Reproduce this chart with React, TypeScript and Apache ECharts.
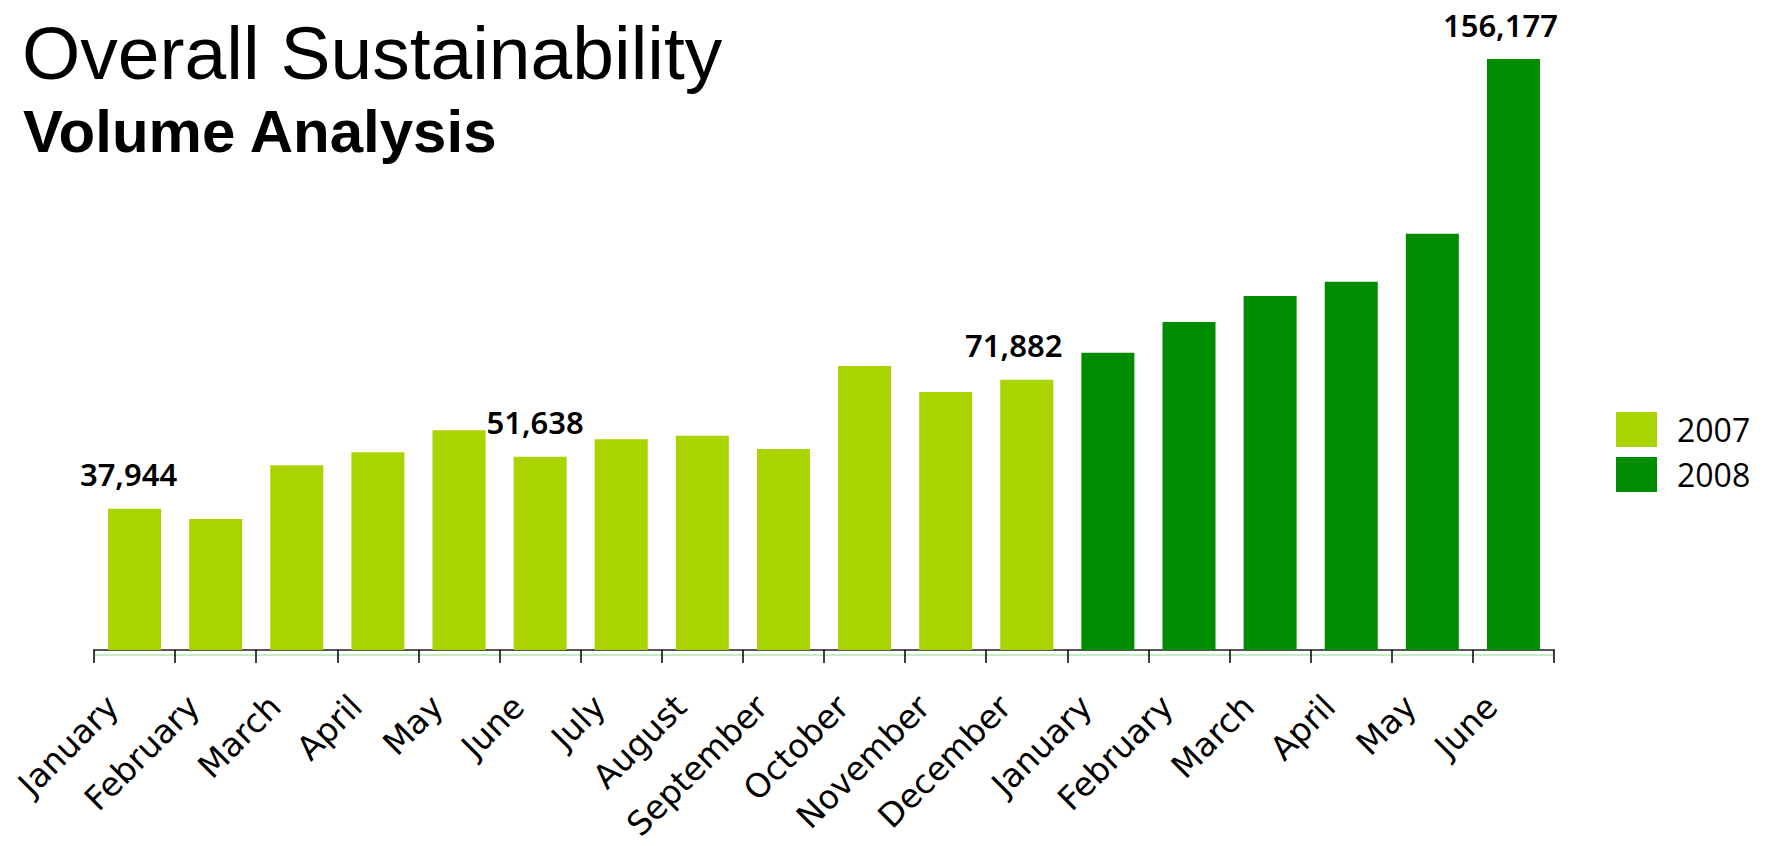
import React, { useEffect, useRef } from "react";
import * as echarts from "echarts";

const categories = [
  "January", "February", "March", "April", "May", "June",
  "July", "August", "September", "October", "November", "December",
  "January", "February", "March", "April", "May", "June",
];
const seriesNames = ["2007", "2008"];
const values2007 = [37944, 35240, 49360, 52780, 58560, 51638, 56190, 57140, 53640, 75460, 68630, 71882];
const values2008 = [78960, 87030, 93870, 97630, 110240, 156177];
const labelledIndexes = [0, 5, 11, 17];
const labelShifts = [-6, -5, -13, -13];
const colors = ["#aad400", "#008c00"];

export default function App() {
  const ref = useRef<HTMLDivElement>(null);
  useEffect(() => {
    if (!ref.current) return;
    const chart = echarts.init(ref.current, undefined, { renderer: "svg" });
    const n07 = values2007.length;
    const labelCfg = (k: number) => ({
      show: true,
      position: "top",
      distance: 19,
      offset: [labelShifts[k], 0],
      color: "#000",
      fontFamily: "Noto Sans",
      fontWeight: 600,
      fontSize: 31,
      formatter: (p: any) => Number(p.value).toLocaleString("en-US"),
    });
    const mk = (vals: number[], start: number) =>
      categories.map((_, i) => {
        const j = i - start;
        if (j < 0 || j >= vals.length) return "-";
        const v = vals[j];
        const k = labelledIndexes.indexOf(i);
        return k >= 0 ? { value: v, label: labelCfg(k) } : v;
      });
    chart.setOption({
      animation: false,
      title: [
        {
          text: "Overall Sustainability",
          left: 22,
          top: 15,
          padding: 0,
          textStyle: { fontFamily: "Liberation Sans", fontSize: 75, fontWeight: "normal", color: "#000" },
        },
        {
          text: "Volume Analysis",
          left: 23,
          top: 101,
          padding: 0,
          textStyle: { fontFamily: "Liberation Sans", fontSize: 60, fontWeight: "bold", color: "#000" },
        },
      ],
      legend: {
        orient: "vertical",
        left: 1616,
        top: 412,
        padding: 0,
        itemWidth: 41,
        itemHeight: 35,
        itemGap: 10,
        icon: "rect",
        textStyle: { fontFamily: "Open Sans", fontSize: 32, color: "#000", padding: [8, 0, 0, 15] },
        data: seriesNames,
      },
      grid: { left: 94, right: 213, top: 59, bottom: 196, containLabel: false },
      xAxis: [
        {
          type: "category",
          data: categories,
          boundaryGap: true,
          axisLine: { lineStyle: { color: "#555", width: 2 } },
          axisTick: { show: true, length: 13, lineStyle: { color: "#000", width: 1.5 } },
          axisLabel: {
            interval: 0,
            rotate: 45,
            margin: 29,
            padding: [0, 31, 0, 0],
            fontFamily: "DejaVu Sans",
            fontSize: 33,
            color: "#000",
          },
        },
        {
          type: "category",
          data: categories,
          position: "bottom",
          offset: 5,
          axisLine: { lineStyle: { color: "#b5e3b5", width: 1.5 } },
          axisTick: { show: false },
          axisLabel: { show: false },
        },
      ],
      yAxis: {
        type: "value",
        min: 800,
        max: 156177,
        show: false,
        splitLine: { show: false },
      },
      series: [
        {
          name: seriesNames[0],
          type: "bar",
          stack: "all",
          barWidth: 53,
          itemStyle: { color: colors[0] },
          data: mk(values2007, 0),
        },
        {
          name: seriesNames[1],
          type: "bar",
          stack: "all",
          barWidth: 53,
          itemStyle: { color: colors[1] },
          data: mk(values2008, n07),
        },
      ],
    });
    return () => chart.dispose();
  }, []);
  return (
    <div
      ref={ref}
      style={{ position: "fixed", left: 0, top: 0, width: "1767px", height: "846px", background: "#fff" }}
    />
  );
}
